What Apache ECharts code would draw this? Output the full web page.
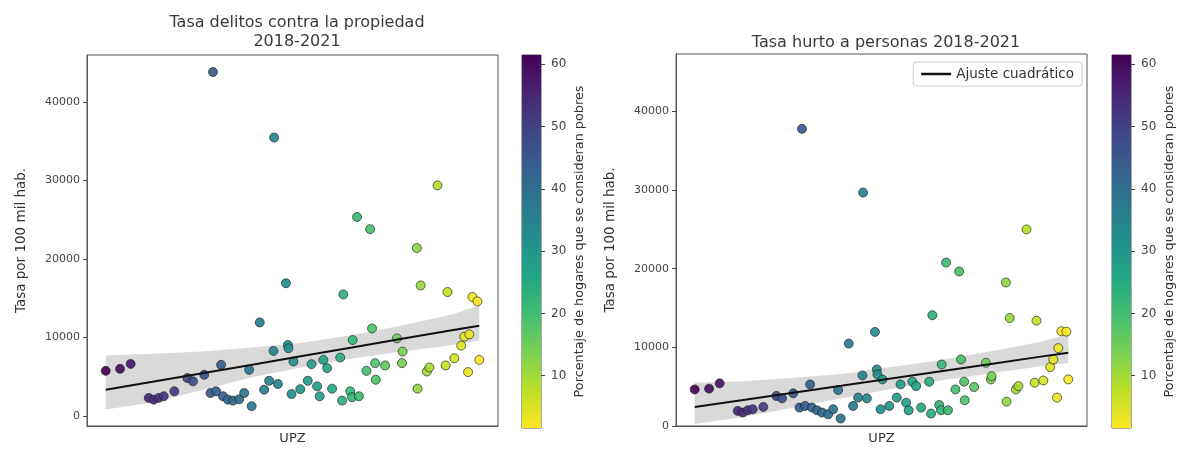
<!DOCTYPE html>
<html><head><meta charset="utf-8">
<script src="https://cdn.jsdelivr.net/npm/echarts@6/dist/echarts.min.js"></script>
<style>html,body{margin:0;padding:0;background:#fff}#c{width:1188px;height:450px}</style>
</head><body><div id="c"></div>
<script>
// Poverty % (households considered poor) per UPZ, used for x position and colour
const poverty = [61.5,59.2,57.5,54.6,53.8,53.0,52.2,50.5,48.4,47.5,45.7,44.7,44.3,43.8,43.0,42.7,41.9,41.1,40.1,39.3,
  38.5,38.1,36.8,36.1,35.3,34.6,34.5,33.9,32.6,32.3,32.2,31.7,31.4,30.3,29.1,28.5,27.6,27.2,26.6,26.0,
  25.2,23.9,23.6,23.4,22.3,22.0,21.9,21.2,20.9,19.7,19.1,18.8,18.3,18.2,16.7,14.8,14.0,13.9,11.6,11.5,
  11.0,10.0,9.6,8.3,7.0,6.7,5.6,4.5,4.0,3.4,3.2,2.7,1.9,1.6];
// Tasa delitos contra la propiedad 2018-2021 (por 100 mil hab.)
const propRate = [5730,5990,6620,2280,2060,2280,2490,3130,4810,4390,5230,2910,43830,3130,6500,2490,2060,1940,2100,2910,
  5860,1230,11900,3330,4470,8270,35480,4050,16900,9030,8610,2780,6920,3400,4470,6580,3760,2490,7130,6080,
  3460,7430,1940,15480,3130,2370,9660,25350,2490,5730,23800,11140,6710,4600,6420,9870,6710,8190,21390,3460,
  16620,5650,6160,29370,6420,15780,7340,8950,10090,5570,10380,15150,14590,7130];
// Tasa hurto a personas 2018-2021 (por 100 mil hab.)
const hurtoRate = [4650,4750,5420,1920,1710,2000,2130,2430,3820,3520,4150,2340,37780,2550,5290,2340,2000,1710,1490,2130,
  4580,950,10480,2550,3610,6430,29680,3520,11960,7190,6560,2130,5920,2550,3610,5290,2970,2000,5630,5080,
  2340,5630,1580,14080,2680,2000,7820,20780,2000,4650,19650,8460,5630,3270,4960,8040,5920,6340,18250,3100,
  13730,4650,5080,25000,5500,13390,5790,7490,8460,3610,9900,12050,12000,5920];
// Quadratic fit and confidence band
const fitPov = [61.5,54,46,38,30,22,14,6,1.6];
const propFit = [3330,4330,5430,6520,7620,8710,9810,10910,11480];
const propLo  = [800,1700,3300,4900,6200,7300,8200,9000,9600];
const propHi  = [7700,7900,8200,8700,9300,10300,11500,12900,14100];
const hurtoFit = [2430,3270,4200,5120,6050,6970,7890,8820,9300];
const hurtoLo  = [250,1100,2300,3500,4700,5800,6700,7600,8000];
const hurtoHi  = [5500,5700,6100,6600,7500,8400,9500,10700,11700];
const yTicks = [0,10000,20000,30000,40000];
const cbTicks = [10,20,30,40,50,60];
const titles = ['Tasa delitos contra la propiedad\n2018-2021','Tasa hurto a personas 2018-2021'];
const yName = 'Tasa por 100 mil hab.';
const cbName = 'Porcentaje de hogares que se consideran pobres';
const fitName = 'Ajuste cuadrático';

const viridis = ['#440154','#482475','#414487','#355f8d','#2a788e','#21918c','#22a884','#44bf70','#7ad151','#bddf26','#fde725'];
const povMin = 1.6, povMax = 61.5;
const FONT = 'DejaVu Sans';
const chart = echarts.init(document.getElementById('c'));

function pts(ys){ return poverty.map((p,i)=>[p, ys[i]]); }
function linePts(ys){ return fitPov.map((p,i)=>[p, ys[i]]); }
function band(idx, lo, hi){
  return {type:'custom', xAxisIndex:idx, yAxisIndex:idx, silent:true, z:1,
    data:[[fitPov[0], lo[0]]], encode:{x:0,y:1},
    renderItem:(params, api)=>{
      const top = fitPov.map((p,i)=>api.coord([p,hi[i]]));
      const bot = fitPov.map((p,i)=>api.coord([p,lo[i]])).reverse();
      return {type:'polygon', shape:{points: top.concat(bot)}, style:{fill:'rgba(0,0,0,0.15)'}};
    }};
}
function colorbar(idx){
  return {type:'custom', xAxisIndex:idx, yAxisIndex:idx, silent:true,
    data:[[0, povMin]], encode:{x:0,y:1},
    renderItem:(params, api)=>{
      const a = api.coord([0, povMax]), b = api.coord([1, povMin]);
      return {type:'rect', shape:{x:a[0], y:a[1], width:b[0]-a[0], height:b[1]-a[1]},
        style:{fill:new echarts.graphic.LinearGradient(0,0,0,1, viridis.map((c,i)=>({offset:i/10,color:c})))}};
    }};
}
const txt = {fontFamily:FONT, color:'#333'};
const plain = v => String(v);
function mainX(idx){
  return {gridIndex:idx, type:'value', inverse:true, min:-1.4, max:64.5,
    axisLabel:{show:false}, axisTick:{show:false}, splitLine:{show:false},
    axisLine:{show:true, onZero:false, lineStyle:{color:'#555'}},
    name:'UPZ', nameLocation:'middle', nameGap:6, nameTextStyle:Object.assign({fontSize:13, verticalAlign:'top'}, txt)};
}
function mainY(idx, min, max){
  return {gridIndex:idx, type:'value', min:min, max:max, splitLine:{show:false},
    axisLine:{show:true, onZero:false, lineStyle:{color:'#555'}},
    axisTick:{show:true, length:4, lineStyle:{color:'#444'}, customValues:yTicks},
    axisLabel:{fontSize:11, color:'#444', fontFamily:FONT, margin:7, customValues:yTicks, formatter:plain},
    name:yName, nameLocation:'middle', nameRotate:90, nameGap:59,
    nameTextStyle:Object.assign({fontSize:13.5}, txt)};
}
function cbX(idx){ return {gridIndex:idx, type:'value', min:0, max:1, show:false}; }
function cbY(idx){
  return {gridIndex:idx, type:'value', position:'right', min:povMin, max:povMax, splitLine:{show:false},
    axisLine:{show:false, onZero:false},
    axisTick:{show:true, length:4, lineStyle:{color:'#444'}, customValues:cbTicks},
    axisLabel:{fontSize:12, color:'#444', fontFamily:FONT, margin:10, customValues:cbTicks, formatter:plain},
    name:cbName, nameLocation:'middle', nameRotate:90, nameGap:32,
    nameTextStyle:Object.assign({fontSize:12.8}, txt)};
}
const scatterStyle = {borderColor:'rgba(30,30,30,0.7)', borderWidth:1, opacity:0.92};
const gridBase = {show:true, borderColor:'#555', borderWidth:1, backgroundColor:'transparent'};

chart.setOption({
  animation:false,
  backgroundColor:'#fff',
  title:[
    {text:titles[0], left:292, top:8, textAlign:'center',
      textStyle:Object.assign({fontSize:16, fontWeight:'normal', lineHeight:19, color:'#3a3a3a', fontFamily:FONT})},
    {text:titles[1], left:881, top:28, textAlign:'center',
      textStyle:Object.assign({fontSize:16, fontWeight:'normal', lineHeight:19, color:'#3a3a3a', fontFamily:FONT})}
  ],
  legend:{data:[{name:fitName, icon:'rect'}], right:106, top:62, itemWidth:30, itemHeight:2.5, itemGap:8, padding:[5,8],
    borderColor:'#ccc', borderWidth:1, borderRadius:3, backgroundColor:'rgba(255,255,255,0.8)',
    textStyle:Object.assign({fontSize:13.5}, txt)},
  grid:[
    Object.assign({left:87, top:55, width:411, height:373}, gridBase),
    Object.assign({left:676, top:54, width:411, height:375}, gridBase),
    Object.assign({left:522, top:55, width:19, height:373}, gridBase),
    Object.assign({left:1112, top:55, width:19, height:373}, gridBase)
  ],
  xAxis:[mainX(0), mainX(1), cbX(2), cbX(3)],
  yAxis:[mainY(0,-1300,46000), mainY(1,0,47300), cbY(2), cbY(3)],
  visualMap:{type:'continuous', show:false, dimension:0, min:povMin, max:povMax, seriesIndex:[1,4],
    inRange:{color:viridis.slice().reverse()}},
  series:[
    band(0, propLo, propHi),
    {type:'scatter', xAxisIndex:0, yAxisIndex:0, data:pts(propRate), symbolSize:9, itemStyle:scatterStyle, z:3},
    {type:'line', name:fitName, xAxisIndex:0, yAxisIndex:0, data:linePts(propFit), symbol:'none',
      lineStyle:{color:'#111', width:2}, itemStyle:{color:'#111'}, z:5},
    band(1, hurtoLo, hurtoHi),
    {type:'scatter', xAxisIndex:1, yAxisIndex:1, data:pts(hurtoRate), symbolSize:9, itemStyle:scatterStyle, z:3},
    {type:'line', name:fitName, xAxisIndex:1, yAxisIndex:1, data:linePts(hurtoFit), symbol:'none',
      lineStyle:{color:'#111', width:2}, itemStyle:{color:'#111'}, z:5},
    colorbar(2),
    colorbar(3)
  ]
});
</script></body></html>
